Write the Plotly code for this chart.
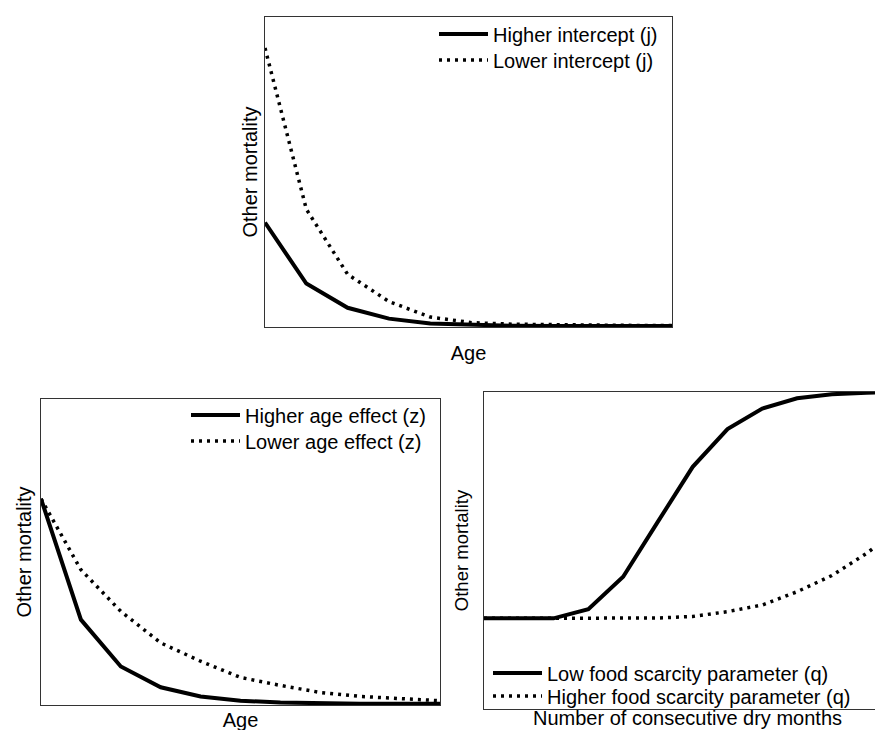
import plotly.graph_objects as go

# ---------------- data ----------------
age_top = [0, 1, 2, 3, 4, 5, 6, 7, 8, 9, 10]
higher_intercept = [0.337, 0.140, 0.062, 0.027, 0.011, 0.006, 0.004, 0.003, 0.003, 0.003, 0.003]
lower_intercept = [0.900, 0.380, 0.170, 0.082, 0.032, 0.014, 0.009, 0.007, 0.006, 0.005, 0.005]

age_left = [0, 1, 2, 3, 4, 5, 6, 7, 8, 9, 10]
higher_age_effect = [0.674, 0.279, 0.126, 0.058, 0.028, 0.014, 0.008, 0.005, 0.004, 0.004, 0.004]
lower_age_effect = [0.674, 0.442, 0.306, 0.203, 0.143, 0.090, 0.064, 0.041, 0.028, 0.020, 0.014]

dry_months = [0, 1, 2, 3, 4, 5, 6, 7, 8, 9, 10, 11, 12]
low_food_q = [0.286, 0.286, 0.286, 0.315, 0.417, 0.591, 0.764, 0.883, 0.948, 0.980, 0.993, 0.998, 0.999]
higher_food_q = [0.286, 0.286, 0.286, 0.286, 0.286, 0.287, 0.292, 0.307, 0.328, 0.370, 0.421, 0.491, 0.575]

names_top = ["Higher intercept (j)", "Lower intercept (j)"]
names_left = ["Higher age effect (z)", "Lower age effect (z)"]
names_right = ["Low food scarcity parameter (q)", "Higher food scarcity parameter (q)"]

# ---------------- layout helpers ----------------
W, H = 883, 730
FONT = "Arial, 'Liberation Sans', sans-serif"
AX = "#333333"
SOLID = dict(color="black", width=4)
DOT = dict(color="black", width=3.5, dash="3px,5px")


def xdom(a, b):
    return [a / W, b / W]


def ydom(top, bottom):
    return [1 - bottom / H, 1 - top / H]


fig = go.Figure()

fig.add_trace(go.Scatter(x=age_top, y=higher_intercept, mode="lines", line=SOLID,
                         name=names_top[0], xaxis="x", yaxis="y", legend="legend",
                         showlegend=True))
fig.add_trace(go.Scatter(x=age_top, y=lower_intercept, mode="lines", line=DOT,
                         name=names_top[1], xaxis="x", yaxis="y", legend="legend2",
                         showlegend=True))

fig.add_trace(go.Scatter(x=age_left, y=higher_age_effect, mode="lines", line=SOLID,
                         name=names_left[0], xaxis="x2", yaxis="y2", legend="legend3",
                         showlegend=True))
fig.add_trace(go.Scatter(x=age_left, y=lower_age_effect, mode="lines", line=DOT,
                         name=names_left[1], xaxis="x2", yaxis="y2", legend="legend4",
                         showlegend=True))

fig.add_trace(go.Scatter(x=dry_months, y=low_food_q, mode="lines", line=SOLID,
                         name=names_right[0], xaxis="x3", yaxis="y3", legend="legend5",
                         showlegend=True))
fig.add_trace(go.Scatter(x=dry_months, y=higher_food_q, mode="lines", line=DOT,
                         name=names_right[1], xaxis="x3", yaxis="y3", legend="legend6",
                         showlegend=True))


def axis(domain, rng, title, size, standoff, mirror=True, anchor=None):
    d = dict(domain=domain, range=rng, showgrid=False, zeroline=False,
             showticklabels=False, ticks="", showline=True, linecolor=AX,
             linewidth=1.3, mirror=mirror, fixedrange=True,
             title=dict(text=title, font=dict(family=FONT, size=size, color="black"),
                        standoff=standoff))
    if anchor:
        d["anchor"] = anchor
    return d


def leg(xpx, ypx, size):
    return dict(x=xpx / W, y=1 - ypx / H, xanchor="left", yanchor="middle",
                bgcolor="rgba(0,0,0,0)", borderwidth=0, itemwidth=49, visible=True,
                font=dict(family=FONT, size=size, color="black"))


fig.update_layout(
    width=W, height=H,
    margin=dict(l=0, r=0, t=0, b=0),
    paper_bgcolor="white", plot_bgcolor="white",
    font=dict(family=FONT, color="black"),
    showlegend=True,
    xaxis=axis(xdom(257, 664), [0, 9.85], "Age", 20, 18, anchor="y"),
    yaxis=axis(ydom(9, 319), [0, 1], "Other mortality", 20, 0, anchor="x"),
    xaxis2=axis(xdom(33, 432), [0, 10], "Age", 20, 7, anchor="y2"),
    yaxis2=axis(ydom(391, 697), [0, 1], "Other mortality", 20, 2, anchor="x2"),
    xaxis3=axis(xdom(476, 883), [0, 11.7], "Number of consecutive dry months", 20, 1, anchor="y3"),
    yaxis3=axis(ydom(384, 701), [0, 1], "Other mortality", 18.5, 9, mirror=False, anchor="x3"),
    legend=leg(426, 26, 20),
    legend2=leg(426, 52, 20),
    legend3=leg(178, 407, 20),
    legend4=leg(178, 433, 20),
    legend5=leg(480, 665, 20),
    legend6=leg(480, 688, 20),
)

fig.write_html("out.html")
